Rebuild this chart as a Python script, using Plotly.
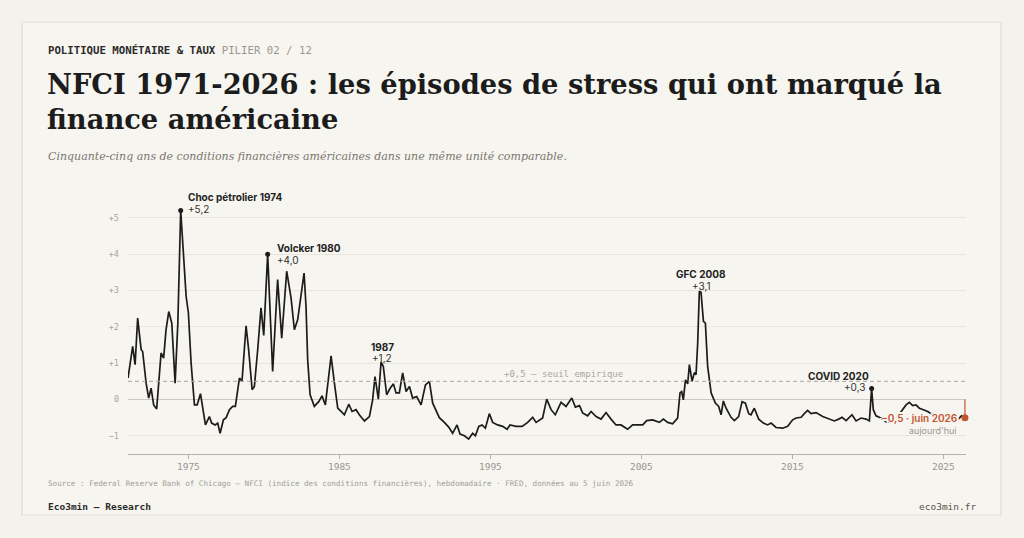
import plotly.graph_objects as go

# NFCI hebdomadaire (lecture du graphique, points principaux)
years = [
    1971.0, 1971.31, 1971.47, 1971.64, 1971.87, 1971.97, 1972.2, 1972.37, 1972.53, 1972.7,
    1972.9, 1973.19, 1973.36, 1973.52, 1973.7, 1973.9, 1974.12, 1974.3, 1974.49, 1974.85,
    1975.0, 1975.18, 1975.4, 1975.58, 1975.8, 1975.95, 1976.13, 1976.39, 1976.54, 1976.77,
    1976.94, 1977.1, 1977.32, 1977.5, 1977.72, 1977.93, 1978.11, 1978.38, 1978.55, 1978.82,
    1978.99, 1979.22, 1979.37, 1979.59, 1979.81, 1979.99, 1980.25, 1980.58, 1980.91, 1981.18,
    1981.51, 1981.8, 1982.02, 1982.24, 1982.46, 1982.66, 1982.79, 1982.9, 1983.06, 1983.34,
    1983.63, 1983.85, 1984.07, 1984.23, 1984.45, 1984.67, 1984.89, 1985.11, 1985.33, 1985.62,
    1985.84, 1986.1, 1986.32, 1986.66, 1986.99, 1987.2, 1987.36, 1987.58, 1987.76, 1987.91,
    1988.13, 1988.36, 1988.58, 1988.75, 1988.97, 1989.19, 1989.42, 1989.64, 1989.85, 1990.12,
    1990.41, 1990.7, 1990.96, 1991.18, 1991.4, 1991.62, 1991.95, 1992.24, 1992.5, 1992.79,
    1992.99, 1993.28, 1993.56, 1993.83, 1994.01, 1994.23, 1994.45, 1994.67, 1994.93, 1995.15,
    1995.48, 1995.81, 1996.11, 1996.3, 1996.7, 1997.1, 1997.47, 1997.8, 1998.03, 1998.46,
    1998.73, 1999.02, 1999.3, 1999.68, 2000.01, 2000.39, 2000.63, 2000.9, 2001.11, 2001.44,
    2001.67, 2002.0, 2002.33, 2002.66, 2002.99, 2003.32, 2003.65, 2004.09, 2004.42, 2005.09,
    2005.35, 2005.75, 2006.19, 2006.46, 2006.74, 2007.07, 2007.4, 2007.56, 2007.67, 2007.78,
    2007.92, 2008.07, 2008.18, 2008.36, 2008.51, 2008.62, 2008.73, 2008.84, 2008.95, 2009.11,
    2009.24, 2009.39, 2009.62, 2009.9, 2010.12, 2010.28, 2010.43, 2010.61, 2010.94, 2011.16,
    2011.44, 2011.67, 2011.89, 2012.11, 2012.26, 2012.48, 2012.77, 2013.08, 2013.36, 2013.59,
    2013.92, 2014.36, 2014.69, 2015.02, 2015.25, 2015.58, 2015.79, 2016.01, 2016.24, 2016.57,
    2017.01, 2017.45, 2017.78, 2018.07, 2018.29, 2018.56, 2018.95, 2019.22, 2019.55, 2019.88,
    2020.1, 2020.25, 2020.36, 2020.54, 2020.87, 2021.2, 2021.54, 2021.75, 2022.0, 2022.26,
    2022.53, 2022.75, 2022.97, 2023.19, 2023.41, 2023.68, 2023.96, 2024.3, 2024.7, 2025.1,
    2025.5, 2025.95, 2026.2, 2026.43,
]
nfci = [
    0.59, 1.46, 0.96, 2.24, 1.37, 1.32, 0.45, 0.04, 0.31, -0.15,
    -0.26, 1.28, 1.14, 1.92, 2.42, 2.1, 0.45, 2.1, 5.2, 2.84,
    2.38, 1.0, -0.15, -0.15, 0.16, -0.19, -0.7, -0.47, -0.65, -0.7,
    -0.65, -0.93, -0.56, -0.5, -0.28, -0.19, -0.19, 0.59, 0.5, 2.03,
    1.37, 0.27, 0.36, 1.37, 2.52, 1.76, 4.0, 0.77, 3.3, 1.69,
    3.53, 2.79, 1.92, 2.2, 2.93, 3.48, 2.56, 1.09, 0.13, -0.19,
    -0.06, 0.1, -0.15, 0.36, 1.2, 0.45, -0.24, -0.33, -0.42, -0.13,
    -0.33, -0.28, -0.42, -0.59, -0.47, -0.01, 0.63, 0.01, 1.03, 0.91,
    0.13, 0.31, 0.43, 0.18, 0.18, 0.73, 0.22, 0.36, 0.04, 0.08,
    -0.15, 0.4, 0.5, -0.1, -0.28, -0.5, -0.63, -0.76, -0.93, -0.7,
    -0.95, -1.0, -1.09, -0.93, -1.0, -0.74, -0.7, -0.79, -0.39, -0.63,
    -0.7, -0.74, -0.82, -0.7, -0.74, -0.74, -0.63, -0.49, -0.63, -0.51,
    0.01, -0.28, -0.42, -0.08, -0.19, 0.04, -0.21, -0.17, -0.37, -0.45,
    -0.33, -0.47, -0.54, -0.36, -0.54, -0.7, -0.7, -0.82, -0.7, -0.7,
    -0.58, -0.56, -0.63, -0.54, -0.63, -0.67, -0.51, 0.18, 0.22, -0.01,
    0.54, 0.43, 0.96, 0.5, 0.74, 0.68, 1.55, 2.98, 2.95, 2.15,
    2.1, 0.91, 0.18, -0.1, -0.19, -0.42, -0.04, -0.24, -0.49, -0.58,
    -0.47, -0.06, -0.1, -0.39, -0.42, -0.24, -0.54, -0.65, -0.7, -0.65,
    -0.77, -0.79, -0.74, -0.56, -0.51, -0.49, -0.39, -0.3, -0.39, -0.36,
    -0.47, -0.54, -0.59, -0.54, -0.49, -0.58, -0.42, -0.59, -0.51, -0.54,
    -0.59, 0.3, -0.28, -0.45, -0.51, -0.61, -0.65, -0.59, -0.45, -0.33,
    -0.15, -0.08, -0.17, -0.15, -0.24, -0.28, -0.33, -0.42, -0.48, -0.5,
    -0.52, -0.56, -0.45, -0.5,
]

dot_years = [1974.49, 1980.25, 2020.25]
dot_vals = [5.2, 4.0, 0.3]

y_ticks = [-1, 0, 1, 2, 3, 4, 5]
y_labels = ["−1", "0", "+1", "+2", "+3", "+4", "+5"]
x_ticks = [1975, 1985, 1995, 2005, 2015, 2025]
threshold = 0.5

BG = "#f4f2ec"
CARD = "#f7f5f0"
INK = "#1c1c1c"
GREY = "#9a968e"
RED = "#c4532f"
SERIF = "DejaVu Serif"
MONO = "DejaVu Sans Mono"
SANS = "Inter"

W, H = 1024, 538
L, R, T, B = 128, 58, 196, 84
PW, PH = W - L - R, H - T - B


def pp(x, y):
    # pixel -> paper coords
    return (x - L) / PW, (H - B - y) / PH


fig = go.Figure()

fig.add_trace(go.Scatter(x=years, y=nfci, mode="lines",
                         line=dict(color=INK, width=1.7), hoverinfo="skip"))
fig.add_trace(go.Scatter(x=dot_years, y=dot_vals, mode="markers",
                         marker=dict(color=INK, size=5), cliponaxis=False))
fig.add_trace(go.Scatter(x=[years[-1], years[-1]], y=[0, nfci[-1]], mode="lines",
                         line=dict(color=RED, width=1.2), cliponaxis=False))
fig.add_trace(go.Scatter(x=[years[-1]], y=[nfci[-1]], mode="markers",
                         marker=dict(color=RED, size=7), cliponaxis=False))

# card
x0, y0 = pp(22, 22)
x1, y1 = pp(1001, 515)
fig.add_shape(type="rect", xref="paper", yref="paper", x0=x0, y0=y0, x1=x1, y1=y1,
              fillcolor=CARD, line=dict(color="#e0ddd3", width=1.2), layer="below")

fig.add_shape(type="line", xref="paper", yref="y", x0=0, x1=1, y0=threshold, y1=threshold,
              line=dict(color="#a9a59c", width=1, dash="4px,3px"))


def note(text, x, y, size, color, family, xanchor="left", weight=None, shadow=None):
    ax, ay = pp(x, y)
    font = dict(size=size, color=color, family=family)
    if weight:
        font["weight"] = weight
    if shadow:
        font["shadow"] = shadow
    fig.add_annotation(text=text, x=ax, y=ay, xref="paper", yref="paper",
                       xanchor=xanchor, yanchor="middle", showarrow=False,
                       font=font, align=xanchor if xanchor != "center" else "center")


# halo in card colour so the series disappears under the "today" label
offsets = ["2px 0", "-2px 0", "0 2px", "0 -2px", "2px 2px", "-2px -2px", "2px -2px", "-2px 2px",
           "1px 0", "-1px 0", "0 1px", "0 -1px"]
halo = ", ".join(o + " 0 " + CARD for o in offsets)

# header
note("<b>POLITIQUE MONÉTAIRE & TAUX</b> <span style='color:#9a968e'>PILIER 02 / 12</span>",
     46, 50, 10.7, "#2a2a2a", MONO)
note("<b>NFCI 1971-2026 : les épisodes de stress qui ont marqué la<br>finance américaine</b>",
     45, 101, 27.3, INK, SERIF)
note("<i>Cinquante-cinq ans de conditions financières américaines dans une même unité comparable.</i>",
     46, 156, 11, "#7a766f", SERIF)

# chart labels
note("<b>Choc pétrolier 1974</b>", 186, 197, 10, "#222", SANS)
note("+5,2", 186, 209, 10, "#333", SANS)
note("<b>Volcker 1980</b>", 275, 248, 10, "#222", SANS)
note("+4,0", 275, 260, 10, "#333", SANS)
note("<b>1987</b>", 382, 347, 10, "#222", SANS, "center")
note("+1,2", 382, 358, 10, "#333", SANS, "center")
note("<b>GFC 2008</b>", 701, 274, 10, "#222", SANS, "center")
note("+3,1", 701, 286, 10, "#333", SANS, "center")
note("<b>COVID 2020</b>", 838, 376, 10, "#222", SANS, "center")
note("+0,3", 867, 387, 10, "#333", SANS, "right")
note("+0,5 — seuil empirique", 563, 374, 9, "#a9a59c", MONO, "center")
note("−0,5 · juin 2026", 959, 418, 10, RED, SANS, "right", weight=600, shadow=halo)
note("aujourd'hui", 959, 430, 9, GREY, SANS, "right")

# footer
note("Source : Federal Reserve Bank of Chicago — NFCI (indice des conditions financières), "
     "hebdomadaire · FRED, données au 5 juin 2026", 46, 483, 7.6, "#a29e96", MONO)
note("<b>Eco3min — Research</b>", 46, 506, 9.5, "#2a2a2a", MONO)
note("eco3min.fr", 978, 506, 9.5, "#55524c", MONO, "right")

fig.update_xaxes(range=[1971.0, 2026.5], tickvals=x_ticks, showgrid=False, zeroline=False,
                 showline=True, linecolor="#b8b3a8", linewidth=1,
                 ticks="outside", ticklen=4, tickcolor="#b8b3a8",
                 tickfont=dict(family=MONO, size=9.5, color=GREY))
fig.update_yaxes(range=[-1.5, 5.6], tickvals=y_ticks, ticktext=y_labels,
                 showgrid=True, gridcolor="#e9e5db", gridwidth=1,
                 zeroline=True, zerolinecolor="#cdc8bb", zerolinewidth=1.2,
                 ticks="", ticklabelstandoff=8,
                 tickfont=dict(family=MONO, size=8.5, color="#aaa69d"))

fig.update_layout(width=W, height=H, margin=dict(l=L, r=R, t=T, b=B),
                  paper_bgcolor=BG, plot_bgcolor="rgba(0,0,0,0)",
                  showlegend=False, hovermode=False)

# page body: no default margin so the figure sits at the window origin
fig.write_html("out.html", config={"displayModeBar": False},
               post_script="document.body.style.margin='0';"
                           "document.body.style.background='#f4f2ec';")
